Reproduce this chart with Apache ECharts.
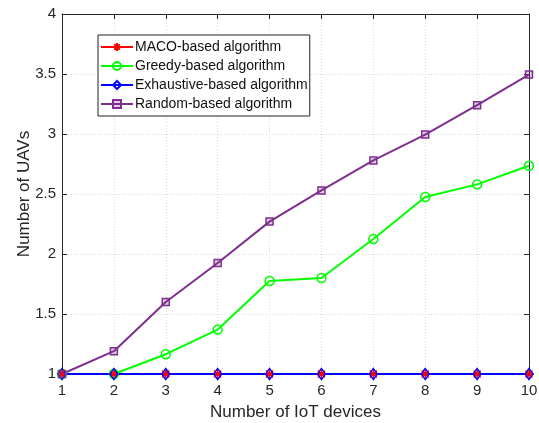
<!DOCTYPE html>
<html>
<head>
<meta charset="utf-8">
<script src="https://cdn.jsdelivr.net/npm/echarts@6/dist/echarts.min.js"></script>
<style>
  html, body { margin: 0; padding: 0; background: #fff; }
  #chart { width: 539px; height: 423px; }
</style>
</head>
<body>
<div id="chart"></div>
<script>
var devices = [1, 2, 3, 4, 5, 6, 7, 8, 9, 10];
var maco = [1, 1, 1, 1, 1, 1, 1, 1, 1, 1];
var greedy = [1, 1, 1.165, 1.37, 1.775, 1.80, 2.125, 2.475, 2.58, 2.735];
var exhaustive = [1, 1, 1, 1, 1, 1, 1, 1, 1, 1];
var random = [1, 1.19, 1.6, 1.925, 2.27, 2.53, 2.78, 2.995, 3.24, 3.495];
var seriesNames = ['MACO-based algorithm', 'Greedy-based algorithm', 'Exhaustive-based algorithm', 'Random-based algorithm'];

function pairs(ys) {
  return devices.map(function(x, i) { return [x, ys[i]]; });
}

var font = 'Liberation Sans, Arial, Helvetica, sans-serif';
var asterisk = 'path://M0,-10L0,10M-10,0L10,0M-7,-7L7,7M-7,7L7,-7';

var chart = echarts.init(document.getElementById('chart'));

var option = {
  animation: false,
  backgroundColor: '#fff',
  grid: { left: 62, right: 10, top: 14, bottom: 49, outerBoundsMode: 'none' },
  legend: {
    orient: 'vertical',
    left: 98,
    top: 35,
    padding: [5, 2, 5, 2],
    itemWidth: 32,
    itemHeight: 10,
    itemGap: 5,
    borderColor: '#222',
    borderWidth: 1,
    backgroundColor: '#fff',
    textStyle: { fontFamily: font, fontSize: 14, color: '#111', padding: [0, 0, 0, -3] },
    data: seriesNames
  },
  xAxis: [{
    type: 'value',
    min: 1, max: 10, interval: 1,
    name: 'Number of IoT devices',
    nameLocation: 'middle',
    nameGap: 30,
    nameTextStyle: { fontFamily: font, fontSize: 17, color: '#262626' },
    axisLine: { lineStyle: { color: '#262626', width: 1 } },
    axisTick: { inside: true, length: 5, lineStyle: { color: '#262626' } },
    axisLabel: { fontFamily: font, fontSize: 15, color: '#262626', margin: 9 },
    splitLine: { show: true, lineStyle: { color: '#d9d9d9', type: [1, 2] } }
  }, {
    type: 'value', position: 'top',
    min: 1, max: 10, interval: 1,
    axisLine: { show: true, lineStyle: { color: '#262626' } },
    axisTick: { inside: true, length: 5, lineStyle: { color: '#262626' } },
    axisLabel: { show: false },
    splitLine: { show: false }
  }],
  yAxis: [{
    type: 'value',
    min: 1, max: 4, interval: 0.5,
    name: 'Number of UAVs',
    nameLocation: 'middle',
    nameGap: 29,
    nameMoveOverlap: false,
    nameTextStyle: { fontFamily: font, fontSize: 17, color: '#262626' },
    axisLine: { show: true, lineStyle: { color: '#262626', width: 1 } },
    axisTick: { inside: true, length: 5, lineStyle: { color: '#262626' } },
    axisLabel: { fontFamily: font, fontSize: 15, color: '#262626', margin: 6 },
    splitLine: { show: true, lineStyle: { color: '#d9d9d9', type: [1, 2] } }
  }, {
    type: 'value', position: 'right',
    min: 1, max: 4, interval: 0.5,
    axisLine: { show: true, lineStyle: { color: '#262626' } },
    axisTick: { inside: true, length: 5, lineStyle: { color: '#262626' } },
    axisLabel: { show: false },
    splitLine: { show: false }
  }],
  series: [{
    name: seriesNames[0],
    type: 'line',
    data: pairs(maco),
    symbol: asterisk,
    symbolSize: 10,
    itemStyle: { color: '#ff0000', borderColor: '#ff0000', borderWidth: 1.5 },
    lineStyle: { color: '#ff0000', width: 2 }
  }, {
    name: seriesNames[1],
    type: 'line',
    data: pairs(greedy),
    symbol: 'circle',
    symbolSize: 9,
    itemStyle: { color: 'rgba(0,0,0,0)', borderColor: '#00ff00', borderWidth: 1.5 },
    lineStyle: { color: '#00ff00', width: 2 }
  }, {
    name: seriesNames[2],
    type: 'line',
    data: pairs(exhaustive),
    symbol: 'diamond',
    symbolSize: [8, 11],
    itemStyle: { color: 'rgba(0,0,0,0)', borderColor: '#0000ff', borderWidth: 1.5 },
    lineStyle: { color: '#0000ff', width: 2 }
  }, {
    name: seriesNames[3],
    type: 'line',
    data: pairs(random),
    symbol: 'rect',
    symbolSize: 7,
    itemStyle: { color: 'rgba(126,47,142,0.25)', borderColor: '#7e2f8e', borderWidth: 1.5 },
    lineStyle: { color: '#7e2f8e', width: 2 }
  }]
};

chart.setOption(option);
</script>
</body>
</html>
